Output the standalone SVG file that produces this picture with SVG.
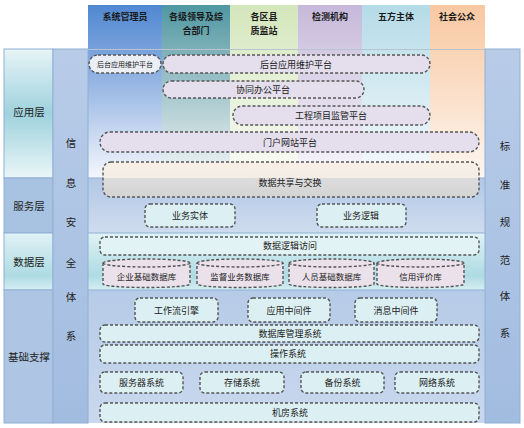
<svg xmlns="http://www.w3.org/2000/svg" width="524" height="428" viewBox="0 0 524 428">
<defs>
<linearGradient id="gBlue" x1="0" y1="0" x2="0" y2="1"><stop offset="0" stop-color="#5088d2"/><stop offset="0.35" stop-color="#86aadf"/><stop offset="1" stop-color="#f4f7fc"/></linearGradient>
<linearGradient id="gTeal" x1="0" y1="0" x2="0" y2="1"><stop offset="0" stop-color="#4e97a2"/><stop offset="0.35" stop-color="#8db8bf"/><stop offset="1" stop-color="#f2f6f6"/></linearGradient>
<linearGradient id="gGreen" x1="0" y1="0" x2="0" y2="1"><stop offset="0" stop-color="#d4e6bc"/><stop offset="0.35" stop-color="#e2eed2"/><stop offset="1" stop-color="#fafcf6"/></linearGradient>
<linearGradient id="gLav" x1="0" y1="0" x2="0" y2="1"><stop offset="0" stop-color="#c6b8da"/><stop offset="0.35" stop-color="#d8d0e6"/><stop offset="1" stop-color="#f8f6fb"/></linearGradient>
<linearGradient id="gSky" x1="0" y1="0" x2="0" y2="1"><stop offset="0" stop-color="#b4dbe8"/><stop offset="0.35" stop-color="#cce6ef"/><stop offset="1" stop-color="#f6fbfd"/></linearGradient>
<linearGradient id="gPeach" x1="0" y1="0" x2="0" y2="1"><stop offset="0" stop-color="#f8c8a2"/><stop offset="0.35" stop-color="#fad8bc"/><stop offset="1" stop-color="#fdf6f0"/></linearGradient>
<linearGradient id="gAppLbl" x1="0" y1="0" x2="0" y2="1"><stop offset="0" stop-color="#e6f4f7"/><stop offset="0.5" stop-color="#9fd2dd"/><stop offset="1" stop-color="#eaf6f8"/></linearGradient>
<linearGradient id="gSvc" x1="0" y1="0" x2="0" y2="1"><stop offset="0" stop-color="#b2c8e6"/><stop offset="1" stop-color="#cfdcef"/></linearGradient>
<linearGradient id="gData" x1="0" y1="0" x2="0" y2="1"><stop offset="0" stop-color="#e0f2f5"/><stop offset="0.75" stop-color="#aedbe3"/><stop offset="1" stop-color="#d6eef2"/></linearGradient>
<linearGradient id="gBase" x1="0" y1="0" x2="0" y2="1"><stop offset="0" stop-color="#b6cbe7"/><stop offset="1" stop-color="#c9d8ee"/></linearGradient>
<linearGradient id="gCol" x1="0" y1="0" x2="0" y2="1"><stop offset="0" stop-color="#b8cce8"/><stop offset="1" stop-color="#a2bce0"/></linearGradient>
<linearGradient id="gShare" x1="0" y1="0" x2="0" y2="1"><stop offset="0" stop-color="#f8f0e6"/><stop offset="0.45" stop-color="#f4ede6"/><stop offset="0.46" stop-color="#dcdcdc"/><stop offset="1" stop-color="#d4d4d4"/></linearGradient>
<style>
.h{font-family:"Noto Sans CJK SC","Noto Sans",sans-serif;font-size:9px;font-weight:bold;fill:#1a1a1a;text-anchor:middle}
.t{font-family:"Noto Sans CJK SC","Noto Sans",sans-serif;font-size:9px;fill:#222;text-anchor:middle}
.c{font-family:"Noto Sans CJK SC","Noto Sans",sans-serif;font-size:8.5px;fill:#222;text-anchor:middle}
.l{font-family:"Noto Sans CJK SC","Noto Sans",sans-serif;font-size:10.5px;fill:#222;text-anchor:middle}
.d{stroke:#555;stroke-width:1.4;stroke-dasharray:3 2}
.pill{fill:#e4deed}
.box{fill:#dcf0f3}
.cyl{fill:#ebe1ea}
.ln{stroke:#8fb0d4;stroke-width:1;fill:none}
</style>
</defs>
<rect x="0" y="0" width="524" height="428" fill="#ffffff"/>

<g id="columns">
<rect x="88" y="5" width="74" height="173" fill="url(#gBlue)"/>
<rect x="162" y="5" width="68" height="173" fill="url(#gTeal)"/>
<rect x="230" y="5" width="68" height="173" fill="url(#gGreen)"/>
<rect x="298" y="5" width="64" height="173" fill="url(#gLav)"/>
<rect x="362" y="5" width="68" height="173" fill="url(#gSky)"/>
<rect x="430" y="5" width="55" height="173" fill="url(#gPeach)"/>
<text class="h" x="125" y="20">系统管理员</text>
<text class="h" x="196" y="20">各级领导及综</text>
<text class="h" x="196" y="34">合部门</text>
<text class="h" x="264" y="20">各区县</text>
<text class="h" x="264" y="34">质监站</text>
<text class="h" x="330" y="20">检测机构</text>
<text class="h" x="396" y="20">五方主体</text>
<text class="h" x="457" y="20">社会公众</text>
</g>

<g id="layers">
<rect x="88" y="178" width="397" height="55" fill="url(#gSvc)"/>
<rect x="88" y="233" width="397" height="57" fill="url(#gData)"/>
<rect x="88" y="290" width="397" height="133" fill="url(#gBase)"/>
<line class="ln" x1="88" y1="49.5" x2="485" y2="49.5" style="stroke:#b8c4d0"/>
<line class="ln" x1="88" y1="178" x2="485" y2="178"/>
<line class="ln" x1="88" y1="233" x2="485" y2="233"/>
<line class="ln" x1="88" y1="290" x2="485" y2="290"/>
</g>

<g id="left-labels">
<rect x="4" y="49" width="49" height="129" fill="url(#gAppLbl)" stroke="#8fb0d4"/>
<rect x="4" y="178" width="49" height="55" fill="#a8c2e2" stroke="#8fb0d4"/>
<rect x="4" y="233" width="49" height="57" fill="url(#gData)" stroke="#8fb0d4"/>
<rect x="4" y="290" width="49" height="133" fill="#aec6e4" stroke="#8fb0d4"/>
<text class="l" x="29" y="116">应用层</text>
<text class="l" x="29" y="210">服务层</text>
<text class="l" x="29" y="266">数据层</text>
<text class="l" x="29" y="361">基础支撑</text>
</g>

<g id="security">
<rect x="53" y="49" width="35" height="374" fill="url(#gCol)" stroke="#8fb0d4"/>
<text class="l" x="71" y="147">信</text>
<text class="l" x="71" y="187">息</text>
<text class="l" x="71" y="226">安</text>
<text class="l" x="71" y="267">全</text>
<text class="l" x="71" y="301">体</text>
<text class="l" x="71" y="340">系</text>
</g>

<g id="standards">
<rect x="485" y="49" width="35" height="374" fill="url(#gCol)" stroke="#8fb0d4"/>
<text class="l" x="505" y="150">标</text>
<text class="l" x="505" y="189">准</text>
<text class="l" x="505" y="226">规</text>
<text class="l" x="505" y="264">范</text>
<text class="l" x="505" y="300">体</text>
<text class="l" x="505" y="337">系</text>
</g>

<g id="app-maint-small"><rect class="d" x="89" y="55" width="72" height="18" rx="9" fill="#eceef6"/><text class="t" x="125" y="67" style="font-size:7px">后台应用维护平台</text></g>
<g id="app-maint"><rect class="d pill" x="163" y="55" width="267" height="18" rx="9"/><text class="t" x="296" y="68">后台应用维护平台</text></g>
<g id="office"><rect class="d pill" x="163" y="81" width="201" height="17" rx="8.5"/><text class="t" x="263" y="93">协同办公平台</text></g>
<g id="project"><rect class="d pill" x="233" y="106" width="197" height="19" rx="9.5"/><text class="t" x="331" y="119">工程项目监管平台</text></g>
<g id="portal"><rect class="d pill" x="100" y="132" width="379" height="20" rx="10"/><text class="t" x="290" y="146">门户网站平台</text></g>
<g id="share"><rect class="d" x="103" y="162" width="376" height="35" rx="8" fill="url(#gShare)"/><text class="t" x="290" y="186">数据共享与交换</text></g>

<g id="biz-entity"><rect class="d box" x="145" y="204" width="90" height="23" rx="5"/><text class="t" x="190" y="219">业务实体</text></g>
<g id="biz-logic"><rect class="d box" x="317" y="204" width="89" height="23" rx="5"/><text class="t" x="361" y="219">业务逻辑</text></g>

<g id="data-access"><rect class="d" x="100" y="237" width="379" height="18" rx="5" fill="#e2f3f5"/><text class="t" x="290" y="249">数据逻辑访问</text></g>
<g id="db-ent"><path class="d cyl" d="M103,263 A43.5,4 0 0 1 190,263 L190,284 A43.5,3.5 0 0 1 103,284 Z"/><path class="d" fill="none" d="M103,263 A43.5,4 0 0 0 190,263"/><text class="c" x="146.5" y="280">企业基础数据库</text></g>
<g id="db-sup"><path class="d cyl" d="M197,263 A43,4 0 0 1 283,263 L283,284 A43,3.5 0 0 1 197,284 Z"/><path class="d" fill="none" d="M197,263 A43,4 0 0 0 283,263"/><text class="c" x="240" y="280">监督业务数据库</text></g>
<g id="db-person"><path class="d cyl" d="M289,263 A42.5,4 0 0 1 374,263 L374,284 A42.5,3.5 0 0 1 289,284 Z"/><path class="d" fill="none" d="M289,263 A42.5,4 0 0 0 374,263"/><text class="c" x="331.5" y="280">人员基础数据库</text></g>
<g id="db-credit"><path class="d cyl" d="M377,263 A43.5,4 0 0 1 464,263 L464,284 A43.5,3.5 0 0 1 377,284 Z"/><path class="d" fill="none" d="M377,263 A43.5,4 0 0 0 464,263"/><text class="c" x="420.5" y="280">信用评价库</text></g>

<g id="workflow"><rect class="d box" x="135" y="298" width="83" height="24" rx="5"/><text class="t" x="176.5" y="314">工作流引擎</text></g>
<g id="app-mw"><rect class="d box" x="248" y="298" width="82" height="24" rx="5"/><text class="t" x="289" y="314">应用中间件</text></g>
<g id="msg-mw"><rect class="d box" x="355" y="298" width="82" height="24" rx="5"/><text class="t" x="396" y="314">消息中间件</text></g>
<g id="dbms"><rect class="d box" x="100" y="325" width="379" height="17" rx="5"/><text class="t" x="290" y="337">数据库管理系统</text></g>
<g id="os"><rect class="d box" x="100" y="345" width="379" height="18" rx="5"/><text class="t" x="288" y="357">操作系统</text></g>
<g id="server"><rect class="d box" x="100" y="372" width="83" height="21" rx="5"/><text class="t" x="141.5" y="386">服务器系统</text></g>
<g id="storage"><rect class="d box" x="200" y="372" width="84" height="21" rx="5"/><text class="t" x="242" y="386">存储系统</text></g>
<g id="backup"><rect class="d box" x="301" y="372" width="83" height="21" rx="5"/><text class="t" x="342.5" y="386">备份系统</text></g>
<g id="network"><rect class="d box" x="395" y="372" width="84" height="21" rx="5"/><text class="t" x="437" y="386">网络系统</text></g>
<g id="machine-room"><rect class="d box" x="100" y="403" width="379" height="19" rx="5"/><text class="t" x="290" y="416">机房系统</text></g>
<g id="connectors"></g>
</svg>
